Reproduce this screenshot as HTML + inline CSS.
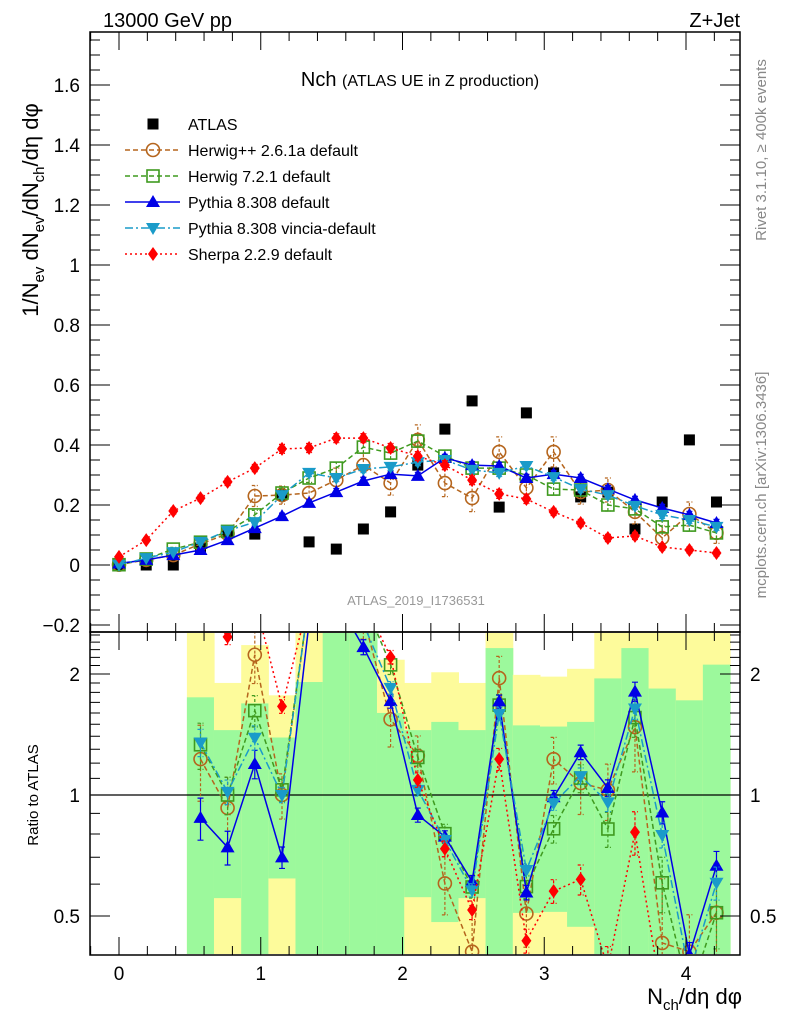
<!DOCTYPE html>
<html><head><meta charset="utf-8"><style>
html,body{margin:0;padding:0;background:#fff;overflow:hidden;width:786px;height:1024px;}
svg{display:block;font-family:"Liberation Sans",sans-serif;}
</style></head><body>
<svg id="chart" width="786" height="1024" viewBox="0 0 786 1024" xmlns="http://www.w3.org/2000/svg">
<defs>
<clipPath id="mainClip"><rect x="91" y="33" width="648" height="598"/></clipPath>
<clipPath id="ratioClip"><rect x="91" y="633" width="648" height="321"/></clipPath>
</defs>
<text x="103" y="27" font-size="20">13000 GeV pp</text>
<text x="740" y="27" font-size="20" text-anchor="end">Z+Jet</text>
<g id="ratioBands" clip-path="url(#ratioClip)"></g>
<g id="mainMarks" clip-path="url(#mainClip)"></g>
<g id="ratioMarks" clip-path="url(#ratioClip)"></g>
<g id="axes"></g>
<text x="420" y="86" font-size="20" text-anchor="middle">Nch <tspan font-size="16">(ATLAS UE in Z production)</tspan></text>
<g id="legend"></g>
<text transform="translate(38,210) rotate(-90)" font-size="22" text-anchor="middle">1/N<tspan font-size="15" dy="6">ev</tspan><tspan dy="-6"> dN</tspan><tspan font-size="15" dy="6">ev</tspan><tspan dy="-6">/dN</tspan><tspan font-size="15" dy="6">ch</tspan><tspan dy="-6">/dη dφ</tspan></text>
<text transform="translate(38,795) rotate(-90)" font-size="15" text-anchor="middle">Ratio to ATLAS</text>
<text x="742" y="1004" font-size="22" text-anchor="end">N<tspan font-size="15" dy="6">ch</tspan><tspan dy="-6">/dη dφ</tspan></text>
<text transform="translate(766,150) rotate(-90)" font-size="15" fill="#888" text-anchor="middle">Rivet 3.1.10, ≥ 400k events</text>
<text transform="translate(766,485) rotate(-90)" font-size="15" fill="#888" text-anchor="middle">mcplots.cern.ch [arXiv:1306.3436]</text>
<text x="416" y="605" font-size="13" fill="#999" text-anchor="middle">ATLAS_2019_I1736531</text>
</svg>
<script>
const xVals = [0,0.192,0.383,0.575,0.766,0.958,1.150,1.341,1.533,1.724,1.916,2.108,2.299,2.491,2.682,2.874,3.066,3.257,3.449,3.640,3.832,4.024,4.215];
const atlas = [0,0,0,0.057,0.112,0.103,0.233,0.077,0.053,0.12,0.177,0.333,0.453,0.547,0.193,0.507,0.307,0.227,0.243,0.12,0.21,0.417,0.21];
const herwigpp = [0,0.017,0.033,0.07,0.104,0.23,0.233,0.24,0.283,0.333,0.273,0.417,0.273,0.223,0.377,0.257,0.377,0.243,0.25,0.177,0.09,0.17,0.107];
const herwigppErr = [0.005,0.005,0.01,0.015,0.02,0.035,0.03,0.035,0.04,0.04,0.04,0.05,0.045,0.045,0.05,0.045,0.05,0.04,0.04,0.04,0.04,0.04,0.035];
const herwig7 = [0,0.02,0.053,0.076,0.112,0.167,0.24,0.29,0.323,0.393,0.373,0.413,0.363,0.323,0.323,0.3,0.253,0.25,0.2,0.187,0.127,0.133,0.107];
const herwig7Err = [0.003,0.005,0.006,0.01,0.012,0.015,0.015,0.015,0.02,0.02,0.02,0.02,0.02,0.02,0.02,0.02,0.02,0.02,0.02,0.02,0.02,0.02,0.02];
const pythia = [0.005,0.017,0.033,0.05,0.083,0.123,0.163,0.207,0.243,0.28,0.303,0.297,0.357,0.333,0.33,0.29,0.303,0.29,0.253,0.217,0.19,0.167,0.14];
const pythiaErr = [0.002,0.003,0.004,0.006,0.008,0.01,0.01,0.01,0.012,0.012,0.012,0.012,0.012,0.012,0.012,0.012,0.012,0.012,0.012,0.012,0.012,0.012,0.012];
const vincia = [0,0.023,0.043,0.077,0.114,0.143,0.233,0.307,0.29,0.32,0.327,0.343,0.35,0.317,0.307,0.33,0.293,0.253,0.233,0.197,0.167,0.15,0.127];
const vinciaErr = [0.002,0.003,0.004,0.006,0.008,0.01,0.01,0.012,0.012,0.012,0.012,0.012,0.012,0.012,0.012,0.012,0.012,0.012,0.012,0.012,0.012,0.012,0.012];
const sherpa = [0.027,0.083,0.18,0.223,0.277,0.323,0.387,0.39,0.423,0.423,0.39,0.363,0.333,0.283,0.237,0.22,0.177,0.14,0.09,0.097,0.06,0.05,0.04];
const sherpaErr = [0.005,0.008,0.01,0.01,0.012,0.012,0.015,0.015,0.015,0.015,0.015,0.015,0.015,0.015,0.015,0.015,0.012,0.012,0.012,0.012,0.01,0.01,0.01];
const bandYellowHi = [3,1.90,2.36,1.77,3,3,3,2.17,1.90,2.02,1.90,3,1.99,1.97,2.06,3,3,3,3,3];
const bandGreenHi = [1.75,1.45,1.69,1.39,1.91,3,3,1.60,1.45,1.52,1.45,2.32,1.49,1.48,1.52,1.95,2.32,1.84,1.72,2.11];
const bandGreenLo = [0.3,0.554,0.3,0.62,0.3,0.3,0.3,0.3,0.557,0.483,0.554,0.3,0.509,0.512,0.47,0.3,0.3,0.3,0.3,0.3];
const bandYellowLo = [0.3,0.3,0.3,0.3,0.3,0.3,0.3,0.3,0.3,0.3,0.3,0.3,0.3,0.3,0.3,0.3,0.3,0.3,0.3,0.3];
const bandStart = 3;
const xTicks = [0,1,2,3,4];
const yTicks = [-0.2,0,0.2,0.4,0.6,0.8,1,1.2,1.4,1.6];
const yTickLabels = ["\u22120.2","0","0.2","0.4","0.6","0.8","1","1.2","1.4","1.6"];
const rTicks = [0.5,1,2];

const NS="http://www.w3.org/2000/svg";
function X(v){return 119+141.75*v;}
function Y(v){return 565-300*v;}
function R(r){return Math.min(1000,Math.max(600,795-402*Math.log10(r)));}
function mk(tag,attrs,parent){const e=document.createElementNS(NS,tag);for(const k in attrs)e.setAttribute(k,attrs[k]);parent.appendChild(e);return e;}
const axes=document.getElementById('axes'),mainG=document.getElementById('mainMarks'),ratioG=document.getElementById('ratioMarks'),bandG=document.getElementById('ratioBands'),legG=document.getElementById('legend');

const bw=xVals[1]-xVals[0];
for(let i=0;i<bandGreenHi.length;i++){
  const xc=xVals[i+bandStart];
  const x0=X(xc-bw/2),x1=X(xc+bw/2);
  const y=mk('rect',{x:x0,y:R(bandYellowHi[i]),width:x1-x0+0.5,height:R(bandYellowLo[i])-R(bandYellowHi[i]),fill:'#fdfb9b'},bandG);
  
  
  const g=mk('rect',{x:x0,y:R(bandGreenHi[i]),width:x1-x0+0.5,height:R(bandGreenLo[i])-R(bandGreenHi[i]),fill:'#9cf99c'},bandG);
  
  
}

function marker(type,x,y,color,parent,name){
  let e;
  if(type==='sq') e=mk('rect',{x:x-5.5,y:y-5.5,width:11,height:11,fill:'#000'},parent);
  else if(type==='circ') e=mk('circle',{cx:x,cy:y,r:6.5,fill:'none',stroke:color,'stroke-width':1.6},parent);
  else if(type==='osq') e=mk('rect',{x:x-6,y:y-6,width:12,height:12,fill:'none',stroke:color,'stroke-width':1.6},parent);
  else if(type==='tri') e=mk('polygon',{points:`${x},${y-7} ${x-7},${y+5} ${x+7},${y+5}`,fill:color},parent);
  else if(type==='itri') e=mk('polygon',{points:`${x},${y+7} ${x-7},${y-5} ${x+7},${y-5}`,fill:color},parent);
  else if(type==='dia') e=mk('polygon',{points:`${x},${y-7} ${x-5},${y} ${x},${y+7} ${x+5},${y}`,fill:color},parent);
  
  
}

const series=[
 {name:'herwigpp',label:'Herwig++ 2.6.1a default',vals:herwigpp,err:herwigppErr,color:'#b5651d',m:'circ',dash:'5,3'},
 {name:'herwig7',label:'Herwig 7.2.1 default',vals:herwig7,err:herwig7Err,color:'#3f9a1f',m:'osq',dash:'5,3'},
 {name:'pythia',label:'Pythia 8.308 default',vals:pythia,err:pythiaErr,color:'#0000e6',m:'tri',dash:''},
 {name:'vincia',label:'Pythia 8.308 vincia-default',vals:vincia,err:vinciaErr,color:'#1a9bc9',m:'itri',dash:'8,3,2,3'},
 {name:'sherpa',label:'Sherpa 2.2.9 default',vals:sherpa,err:sherpaErr,color:'#ff0000',m:'dia',dash:'2,3'}
];

function drawSeries(s,parent,xf,yf,errf,ratio){
  let pts=[];
  for(let i=0;i<xVals.length;i++){
    if(ratio&&(atlas[i]<=0))continue;
    const v=ratio?s.vals[i]/atlas[i]:s.vals[i];
    pts.push([xf(xVals[i]),yf(Math.max(v,1e-3))]);
  }
  const pl=mk('polyline',{points:pts.map(p=>p.join(',')).join(' '),fill:'none',stroke:s.color,'stroke-width':1.5,'stroke-dasharray':s.dash},parent);
  
  
  for(let i=0;i<xVals.length;i++){
    if(ratio&&(atlas[i]<=0))continue;
    const v=ratio?s.vals[i]/atlas[i]:s.vals[i];
    const e=ratio?s.err[i]/atlas[i]:s.err[i];
    const x=xf(xVals[i]);
    const y1=yf(Math.max(v-e,1e-3)),y2=yf(v+e);
    const eb=mk('path',{d:`M${x},${y1}V${y2}M${x-3},${y1}h6M${x-3},${y2}h6`,stroke:s.color,'stroke-width':1.2,'stroke-dasharray':s.dash?'3,2':'',fill:'none'},parent);
    
    
    marker(s.m,x,yf(Math.max(v,1e-3)),s.color,parent,s.name+(ratio?'-ratio-point':'-point'));
  }
}
for(let i=0;i<xVals.length;i++) marker('sq',X(xVals[i]),Y(atlas[i]),'#000',mainG,'atlas-point');
series.forEach(s=>drawSeries(s,mainG,X,Y,null,false));
const one=mk('line',{x1:91,x2:739,y1:R(1),y2:R(1),stroke:'#000','stroke-width':1.3},ratioG);


series.forEach(s=>drawSeries(s,ratioG,X,R,null,true));

const f1=mk('rect',{x:90,y:32,width:650,height:600,fill:'none',stroke:'#000','stroke-width':1.5},axes);


const f2=mk('rect',{x:90,y:632,width:650,height:323,fill:'none',stroke:'#000','stroke-width':1.5},axes);


for(let v=-0.2;v<=4.35;v+=0.2){
  const x=X(v);const maj=Math.abs(v-Math.round(v))<1e-6;const L=maj?18:9;
  [32,632].forEach(yy=>{const t=mk('path',{d:`M${x},${yy}v${L}`,stroke:'#000','stroke-width':1},axes);});
  [632,955].forEach(yy=>{const t=mk('path',{d:`M${x},${yy}v${-L}`,stroke:'#000','stroke-width':1},axes);});
}
xTicks.forEach(v=>{const t=mk('text',{x:X(v),y:980,'font-size':19,'text-anchor':'middle'},axes);t.textContent=String(v);});
for(let v=-0.2;v<=1.76;v+=0.05){
  const y=Y(v);const maj=Math.abs(v/0.2-Math.round(v/0.2))<1e-6;const L=maj?20:10;
  const t=mk('path',{d:`M90,${y}h${L}M740,${y}h${-L}`,stroke:'#000','stroke-width':1},axes);
  
  
}
yTicks.forEach((v,i)=>{const t=mk('text',{x:80,y:Y(v)+7,'font-size':19,'text-anchor':'end'},axes);t.textContent=yTickLabels[i];});
const rm=[0.4,0.5,0.6,0.7,0.8,0.9,1,1.1,1.2,1.3,1.4,1.5,1.6,1.7,1.8,1.9,2,2.1,2.2,2.3,2.4,2.5];
rm.forEach(r=>{const y=R(r);const L=rTicks.includes(r)?20:10;const t=mk('path',{d:`M90,${y}h${L}M740,${y}h${-L}`,stroke:'#000','stroke-width':1},axes);});
rTicks.forEach(r=>{
  const a=mk('text',{x:80,y:R(r)+7,'font-size':19,'text-anchor':'end'},axes);a.textContent=String(r);
  const b=mk('text',{x:750,y:R(r)+7,'font-size':19},axes);b.textContent=String(r);
});
const legRows=[{label:'ATLAS',m:'sq',color:'#000',dash:null,name:'atlas'}].concat(series);
legRows.forEach((s,i)=>{
  const y=124+i*26;
  if(s.dash!==null){const l=mk('line',{x1:125,x2:180,y1:y,y2:y,stroke:s.color,'stroke-width':1.5,'stroke-dasharray':s.dash},legG);}
  marker(s.m,153,y,s.color,legG,'legend-marker');
  const t=mk('text',{x:188,y:y+6,'font-size':16},legG);t.textContent=s.label;
  
  
});
</script>
</body></html>
